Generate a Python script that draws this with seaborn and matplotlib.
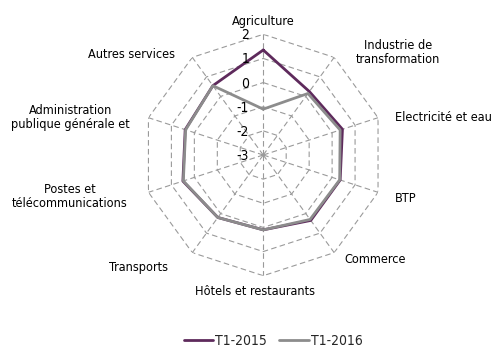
import numpy as np
import pandas as pd
import matplotlib
matplotlib.use("Agg")
import matplotlib.pyplot as plt
import matplotlib.transforms as mtransforms
from matplotlib import font_manager
import seaborn as sns

# sectors, clockwise from the top
categories = ["Agriculture", "Industrie de\ntransformation", "Electricité et eau", "BTP",
              "Commerce", "Hôtels et restaurants", "Transports",
              "Postes et\ntélécommunications", "Administration\npublique générale et",
              "Autres services"]
t1_2015 = [1.35, 0.25, 0.45, 0.35, 0.35, 0.1, 0.2, 0.5, 0.4, 0.55]
t1_2016 = [-1.1, 0.15, 0.35, 0.33, 0.3, 0.1, 0.2, 0.48, 0.38, 0.55]
series_names = ["T1-2015", "T1-2016"]
r_ticks = [-3, -2, -1, 0, 1, 2]

sns.set_theme(style="white")
names = {f.name for f in font_manager.fontManager.ttflist}
narrow = [f for f in ["Liberation Sans Narrow", "Arial Narrow", "DejaVu Sans"] if f in names]
plt.rcParams["font.family"] = narrow
plt.rcParams["font.stretch"] = "condensed"
fs = 9.1

n = len(categories)
theta = np.linspace(0, 2 * np.pi, n, endpoint=False)
theta_closed = np.append(theta, 2 * np.pi)

rows = []
for name, vals in zip(series_names, [t1_2015, t1_2016]):
    for th, v in zip(theta_closed, vals + vals[:1]):
        rows.append({"theta": th, "value": v, "serie": name})
df = pd.DataFrame(rows)

fig = plt.figure(figsize=(4.93, 3.49), dpi=100)
ax = fig.add_axes([0.2891, 0.210, 0.4897, 0.6917], projection="polar")
ax.set_theta_zero_location("N")
ax.set_theta_direction(-1)
ax.set_ylim(r_ticks[0], r_ticks[-1])

# decagon grid
grid_kw = dict(color="#9a9a9a", lw=0.8, ls=(0, (5, 3)), zorder=1)
for r in r_ticks[1:]:
    ax.plot(theta_closed, [r] * (n + 1), **grid_kw)
for th in theta:
    ax.plot([th, th], [r_ticks[0], r_ticks[-1]], **grid_kw)

sns.lineplot(data=df, x="theta", y="value", hue="serie", sort=False, estimator=None,
             palette={"T1-2015": "#5e2a5c", "T1-2016": "#8c8c8c"}, linewidth=2.0,
             ax=ax, legend=False, zorder=3)

ax.grid(False)
ax.set_xticks([])
ax.set_yticks([])
ax.set_xlabel("")
ax.set_ylabel("")
ax.spines["polar"].set_visible(False)
ax.patch.set_alpha(0)

# radial tick labels, left of the top spoke
off = mtransforms.offset_copy(ax.transData, fig=fig, x=-14, y=-1, units="dots")
for r in r_ticks:
    ax.text(0, r, str(r), transform=off, ha="right", va="center", fontsize=10, color="black")

# category labels
label_pos = [
    (0.499, 1.055, "center"),
    (1.058, 0.923, "center"),
    (1.045, 0.657, "left"),
    (1.045, 0.318, "left"),
    (0.838, 0.069, "left"),
    (0.465, -0.067, "center"),
    (0.105, 0.032, "right"),
    (-0.301, 0.330, "center"),
    (-0.297, 0.657, "center"),
    (0.134, 0.918, "right"),
]
for lab, (x, y, ha) in zip(categories, label_pos):
    ax.text(x, y, lab, transform=ax.transAxes, ha=ha, va="center", fontsize=fs,
            color="black", multialignment="center", linespacing=1.1)

handles = [plt.Line2D([], [], color="#5e2a5c", lw=2.0), plt.Line2D([], [], color="#8c8c8c", lw=2.0)]
fig.legend(handles, series_names, loc="center", bbox_to_anchor=(0.554, 0.022), ncol=2,
           frameon=False, fontsize=10, handlelength=2.1, handletextpad=0.15,
           columnspacing=0.9)

fig.savefig("out.png", dpi=100)
